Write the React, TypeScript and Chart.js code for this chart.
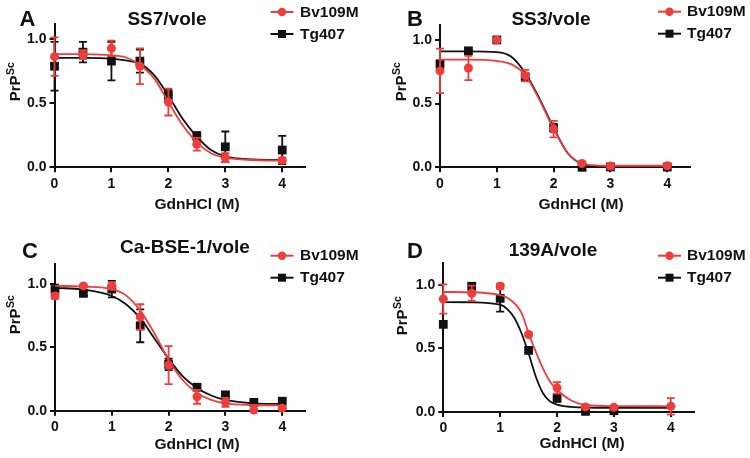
import { useEffect, useRef } from "react";
import { Chart, registerables } from "chart.js";

Chart.register(...registerables);

const RED = "#ee3d3d";
const BLACK = "#111111";
const FONT = "Arial, 'Liberation Sans', Helvetica, sans-serif";

const W = 375;
const H = 229;

// GdnHCl concentrations (M)
const GDN = [0, 0.5, 1, 1.5, 2, 2.5, 3, 4];
const GDN_C = [0, 0.5, 1, 1.5, 2, 2.5, 3, 3.5, 4];
const X_TICKS = [0, 1, 2, 3, 4];
const Y_TICKS = [0, 0.5, 1];

// A: SS7/vole
const A_BV = [0.865, 0.88, 0.93, 0.79, 0.51, 0.18, 0.075, 0.055];
const A_BV_ERR = [0.15, 0.035, 0.06, 0.14, 0.105, 0.05, 0.035, 0.02];
const A_TG = [0.79, 0.9, 0.83, 0.83, 0.565, 0.245, 0.16, 0.135];
const A_TG_ERR = [0.19, 0.08, 0.15, 0.09, 0.04, 0.03, 0.12, 0.11];
const A_FIT_X = [0, 0.5, 1, 1.25, 1.5, 1.75, 2, 2.25, 2.5, 2.75, 3, 3.5, 4];
const A_BV_FIT = [0.885, 0.884, 0.875, 0.86, 0.8, 0.695, 0.51, 0.33, 0.195, 0.11, 0.075, 0.057, 0.052];
const A_TG_FIT = [0.855, 0.855, 0.85, 0.835, 0.81, 0.72, 0.56, 0.38, 0.24, 0.135, 0.085, 0.062, 0.057];

// B: SS3/vole
const B_BV = [0.757, 0.78, 1.0, 0.72, 0.3, 0.03, 0.01, 0.012];
const B_BV_ERR = [0.175, 0.095, 0, 0.045, 0.065, 0.01, 0, 0];
const B_TG = [0.81, 0.915, 1.0, 0.71, 0.31, 0.0, 0.003, 0.002];
const B_TG_ERR = [0.03, 0.01, 0, 0.02, 0.03, 0, 0, 0];
const B_FIT_X = [0, 0.5, 1, 1.25, 1.5, 1.75, 2, 2.25, 2.5, 2.75, 3, 4];
const B_BV_FIT = [0.845, 0.845, 0.835, 0.81, 0.725, 0.53, 0.3, 0.11, 0.03, 0.015, 0.012, 0.012];
const B_TG_FIT = [0.91, 0.91, 0.905, 0.87, 0.74, 0.54, 0.31, 0.11, 0.025, 0.008, 0.005, 0.005];

// C: Ca-BSE-1/vole
const C_BV = [0.905, 0.985, 0.985, 0.74, 0.36, 0.11, 0.066, 0.005, 0.02];
const C_BV_ERR = [0.02, 0.01, 0.03, 0.1, 0.15, 0.055, 0.035, 0, 0.01];
const C_TG = [0.955, 0.926, 0.96, 0.67, 0.365, 0.185, 0.125, 0.066, 0.075];
const C_TG_ERR = [0.04, 0.02, 0.065, 0.13, 0.045, 0.02, 0.02, 0.01, 0.01];
const C_FIT_X = [0, 0.5, 1, 1.25, 1.5, 1.75, 2, 2.25, 2.5, 2.75, 3, 3.5, 4];
const C_BV_FIT = [0.985, 0.98, 0.96, 0.91, 0.79, 0.61, 0.4, 0.24, 0.14, 0.085, 0.058, 0.045, 0.042];
const C_TG_FIT = [0.97, 0.955, 0.905, 0.84, 0.73, 0.57, 0.41, 0.27, 0.18, 0.12, 0.085, 0.058, 0.053];

// D: 139A/vole
const D_BV = [0.89, 0.935, 0.99, 0.61, 0.19, 0.04, 0.037, 0.045];
const D_BV_ERR = [0.115, 0.06, 0.02, 0.01, 0.045, 0.01, 0.01, 0.065];
const D_TG = [0.69, 0.99, 0.895, 0.485, 0.11, 0.005, 0.01, null];
const D_TG_ERR = [0, 0.02, 0.105, 0.02, 0.03, 0, 0, 0];
const D_FIT_X = [0, 0.5, 1, 1.125, 1.25, 1.375, 1.5, 1.625, 1.75, 1.875, 2, 2.25, 2.5, 3, 4];
const D_BV_FIT = [0.945, 0.943, 0.92, 0.9, 0.856, 0.78, 0.62, 0.476, 0.345, 0.24, 0.175, 0.09, 0.055, 0.046, 0.045];
const D_TG_FIT = [0.865, 0.864, 0.845, 0.81, 0.74, 0.62, 0.46, 0.28, 0.15, 0.084, 0.058, 0.04, 0.035, 0.033, 0.033];

interface PanelData {
  letter: string;
  title: string;
  xs: number[];
  bv: (number | null)[];
  bvErr: number[];
  tg: (number | null)[];
  tgErr: number[];
  fitX: number[];
  bvFit: number[];
  tgFit: number[];
}

interface Frame {
  left: number;
  right: number;
  top: number;
  bottom: number;
  yMax: number;
  letter: [number, number];
  title: [number, number];
  legend: [number, number, number];
  yTitle: [number, number];
  xTitle: [number, number];
}

const PANELS: PanelData[] = [
  { letter: "A", title: "SS7/vole", xs: GDN, bv: A_BV, bvErr: A_BV_ERR, tg: A_TG, tgErr: A_TG_ERR, fitX: A_FIT_X, bvFit: A_BV_FIT, tgFit: A_TG_FIT },
  { letter: "B", title: "SS3/vole", xs: GDN, bv: B_BV, bvErr: B_BV_ERR, tg: B_TG, tgErr: B_TG_ERR, fitX: B_FIT_X, bvFit: B_BV_FIT, tgFit: B_TG_FIT },
  { letter: "C", title: "Ca-BSE-1/vole", xs: GDN_C, bv: C_BV, bvErr: C_BV_ERR, tg: C_TG, tgErr: C_TG_ERR, fitX: C_FIT_X, bvFit: C_BV_FIT, tgFit: C_TG_FIT },
  { letter: "D", title: "139A/vole", xs: GDN, bv: D_BV, bvErr: D_BV_ERR, tg: D_TG, tgErr: D_TG_ERR, fitX: D_FIT_X, bvFit: D_BV_FIT, tgFit: D_TG_FIT },
];

// legend: [lineStartX, textX, row1Y]; rows are 22px apart
const FRAMES: Frame[] = [
  { left: 54.5, right: 305, top: 24, bottom: 167.3, yMax: 1.12, letter: [27.5, 19.5], title: [167, 20], legend: [270.5, 300, 12], yTitle: [14, 82], xTitle: [197, 205] },
  { left: 65, right: 315, top: 24.7, bottom: 167.3, yMax: 1.12, letter: [40, 19.5], title: [176, 20], legend: [283, 312, 11.7], yTitle: [25, 82], xTitle: [206, 205] },
  { left: 55, right: 305, top: 34.7, bottom: 181.7, yMax: 1.16, letter: [30, 23], title: [185, 18.5], legend: [270.5, 300, 26.7], yTitle: [14, 86], xTitle: [197, 215.5] },
  { left: 68.3, right: 318.6, top: 34.4, bottom: 183, yMax: 1.17, letter: [40, 23], title: [178, 21.5], legend: [283, 312, 26.7], yTitle: [26, 87], xTitle: [207, 215] },
];

function points(xs: number[], ys: (number | null)[], errs: number[]) {
  const out: { x: number; y: number; e: number }[] = [];
  xs.forEach((x, i) => {
    const y = ys[i];
    if (y !== null && y !== undefined) out.push({ x, y, e: errs[i] });
  });
  return out;
}

const errorBars = {
  id: "errorBars",
  beforeDatasetDraw(chart: any, args: any) {
    const ds = chart.data.datasets[args.index];
    if (!ds.errorBars) return;
    const ctx = chart.ctx;
    const yScale = chart.scales.y;
    ctx.save();
    ctx.strokeStyle = ds.borderColor;
    ctx.lineWidth = 1.8;
    args.meta.data.forEach((pt: any, i: number) => {
      const raw = ds.data[i];
      if (!raw.e) return;
      const top = yScale.getPixelForValue(raw.y + raw.e);
      const bot = yScale.getPixelForValue(raw.y - raw.e);
      ctx.beginPath();
      ctx.moveTo(pt.x, top);
      ctx.lineTo(pt.x, bot);
      ctx.moveTo(pt.x - 4, top);
      ctx.lineTo(pt.x + 4, top);
      ctx.moveTo(pt.x - 4, bot);
      ctx.lineTo(pt.x + 4, bot);
      ctx.stroke();
    });
    ctx.restore();
  },
};

function Panel({ data, frame }: { data: PanelData; frame: Frame }) {
  const ref = useRef<HTMLCanvasElement>(null);

  useEffect(() => {
    if (!ref.current) return;

    const decor = {
      id: "decor",
      afterDraw(chart: any) {
        const ctx = chart.ctx;
        ctx.save();
        ctx.fillStyle = BLACK;
        ctx.textBaseline = "middle";

        ctx.textAlign = "center";
        ctx.font = `bold 22px ${FONT}`;
        ctx.fillText(data.letter, frame.letter[0], frame.letter[1]);

        ctx.font = `bold 19px ${FONT}`;
        ctx.fillText(data.title, frame.title[0], frame.title[1]);

        ctx.font = `bold 15.5px ${FONT}`;
        ctx.fillText("GdnHCl (M)", frame.xTitle[0], frame.xTitle[1]);

        // legend
        const [lx, tx, ly] = frame.legend;
        const rows = [
          { label: "Bv109M", color: RED, shape: "circle" },
          { label: "Tg407", color: BLACK, shape: "rect" },
        ];
        rows.forEach((r, i) => {
          const y = ly + i * 22;
          const mx = lx + 11.5;
          ctx.strokeStyle = r.color;
          ctx.fillStyle = r.color;
          ctx.lineWidth = 2;
          ctx.beginPath();
          ctx.moveTo(lx, y);
          ctx.lineTo(lx + 23, y);
          ctx.stroke();
          ctx.beginPath();
          if (r.shape === "circle") ctx.arc(mx, y, 4.2, 0, Math.PI * 2);
          else ctx.rect(mx - 4, y - 4, 8, 8);
          ctx.fill();
          ctx.fillStyle = BLACK;
          ctx.textAlign = "left";
          ctx.font = `bold 15.5px ${FONT}`;
          ctx.fillText(r.label, tx, y + 0.5);
        });

        // y title PrP^Sc, rotated
        ctx.translate(frame.yTitle[0], frame.yTitle[1]);
        ctx.rotate(-Math.PI / 2);
        ctx.textAlign = "left";
        ctx.textBaseline = "alphabetic";
        ctx.font = `bold 15px ${FONT}`;
        const w1 = ctx.measureText("PrP").width;
        ctx.font = `bold 10.5px ${FONT}`;
        const w2 = ctx.measureText("Sc").width;
        const x0 = -(w1 + w2) / 2;
        ctx.font = `bold 15px ${FONT}`;
        ctx.fillText("PrP", x0, 5.5);
        ctx.font = `bold 10.5px ${FONT}`;
        ctx.fillText("Sc", x0 + w1 + 0.5, -0.5);
        ctx.restore();
      },
    };

    const tickFont = { family: FONT, size: 14, weight: "bold" as const };

    const chart = new Chart(ref.current, {
      type: "line",
      data: {
        datasets: [
          {
            label: "Bv109M",
            data: points(data.xs, data.bv, data.bvErr),
            showLine: false,
            pointStyle: "circle",
            pointRadius: 4.5,
            backgroundColor: RED,
            borderColor: RED,
            pointBorderWidth: 0,
            clip: false,
            errorBars: true,
          } as any,
          {
            data: data.fitX.map((x, i) => ({ x, y: data.bvFit[i] })),
            borderColor: RED,
            borderWidth: 1.8,
            pointRadius: 0,
            cubicInterpolationMode: "monotone",
            fill: false,
            clip: false,
          },
          {
            label: "Tg407",
            data: points(data.xs, data.tg, data.tgErr),
            showLine: false,
            pointStyle: "rect",
            pointRadius: 6.2,
            backgroundColor: BLACK,
            borderColor: BLACK,
            pointBorderWidth: 0,
            clip: false,
            errorBars: true,
          } as any,
          {
            data: data.fitX.map((x, i) => ({ x, y: data.tgFit[i] })),
            borderColor: BLACK,
            borderWidth: 1.8,
            pointRadius: 0,
            cubicInterpolationMode: "monotone",
            fill: false,
            clip: false,
          },
        ],
      },
      options: {
        responsive: false,
        animation: false,
        events: [],
        layout: { padding: { left: 0, top: frame.top, right: W - frame.right, bottom: 0 } },
        plugins: {
          legend: { display: false },
          tooltip: { enabled: false },
          title: { display: false },
        },
        scales: {
          x: {
            type: "linear",
            min: 0,
            max: 4.4,
            afterBuildTicks: (s: any) => {
              s.ticks = X_TICKS.map((v) => ({ value: v }));
            },
            afterFit: (s: any) => {
              s.height = H - frame.bottom;
            },
            grid: { display: true, drawOnChartArea: false, drawTicks: true, tickLength: 5, color: BLACK, lineWidth: 2 },
            border: { display: true, color: BLACK, width: 2 },
            ticks: { color: BLACK, font: tickFont, padding: 3, maxRotation: 0, callback: (v: any) => String(v) },
          },
          y: {
            type: "linear",
            min: 0,
            max: frame.yMax,
            afterBuildTicks: (s: any) => {
              s.ticks = Y_TICKS.map((v) => ({ value: v }));
            },
            afterFit: (s: any) => {
              s.width = frame.left;
            },
            grid: { display: true, drawOnChartArea: false, drawTicks: true, tickLength: 5, color: BLACK, lineWidth: 2 },
            border: { display: true, color: BLACK, width: 2 },
            ticks: { color: BLACK, font: tickFont, padding: 3, callback: (v: any) => Number(v).toFixed(1) },
          },
        },
      },
      plugins: [errorBars, decor],
    });

    return () => chart.destroy();
  }, [data, frame]);

  return <canvas ref={ref} width={W} height={H} style={{ width: W, height: H, display: "block" }} />;
}

export default function App() {
  return (
    <div
      style={{
        position: "absolute",
        left: 0,
        top: 0,
        width: W * 2,
        height: H * 2,
        background: "#ffffff",
        display: "grid",
        gridTemplateColumns: `${W}px ${W}px`,
        gridTemplateRows: `${H}px ${H}px`,
      }}
    >
      {PANELS.map((p, i) => (
        <Panel key={p.letter} data={p} frame={FRAMES[i]} />
      ))}
    </div>
  );
}
